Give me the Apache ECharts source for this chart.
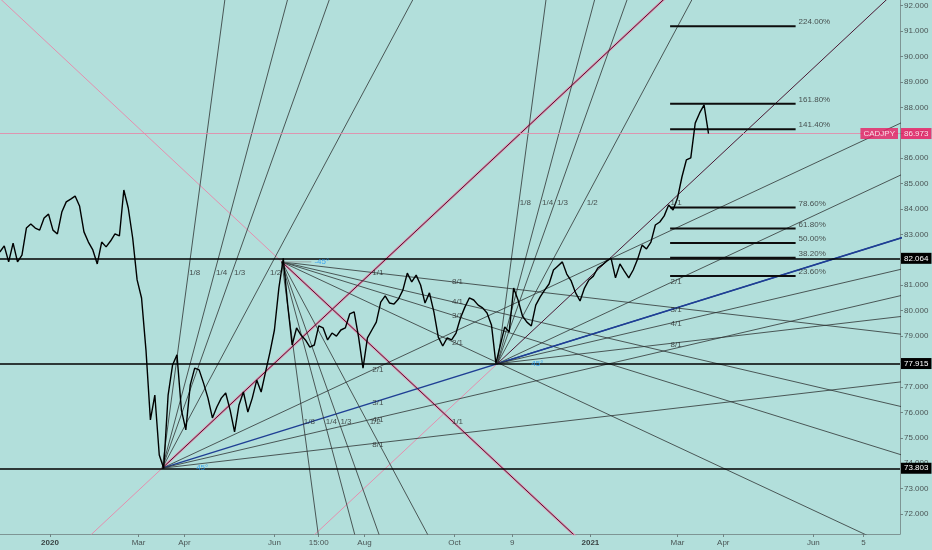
<!DOCTYPE html>
<html><head><meta charset="utf-8">
<script src="https://cdn.jsdelivr.net/npm/echarts@6/dist/echarts.min.js"></script>
<style>html,body{margin:0;padding:0;background:#b2dfdb}#c{width:932px;height:550px}</style>
</head><body><div id="c"></div>
<script>
// ---------- data ----------
const symbolName = 'CADJPY';
const priceStart = '2019-11-28';
const priceStepDays = 3;
const prices = [
  82.31,82.55,81.92,82.66,81.92,82.19,83.25,83.41,83.25,83.17,
  83.65,83.80,83.17,83.02,83.88,84.28,84.39,84.51,84.12,83.10,
  82.70,82.39,81.84,82.70,82.51,82.74,83.02,82.94,84.75,84.04,
  82.86,81.21,80.50,78.45,75.70,76.68,74.32,73.80,76.68,77.86,
  78.26,76.09,75.31,77.08,77.74,77.67,77.15,76.56,75.78,76.21,
  76.56,76.76,76.09,75.23,76.29,76.80,76.01,76.56,77.27,76.80,
  77.59,78.37,79.24,80.89,82.06,80.22,78.65,79.32,79.04,78.85,
  78.57,78.65,79.40,79.32,78.85,79.12,79.00,79.24,79.32,79.87,
  79.95,78.96,77.74,78.93,79.24,79.55,80.34,80.58,80.30,80.26,
  80.46,80.81,81.48,81.13,81.40,81.01,80.30,80.70,79.95,78.96,
  78.61,78.93,78.85,79.12,79.71,80.14,80.50,80.42,80.22,80.11,
  79.91,79.44,77.92,78.65,79.36,79.16,80.89,80.42,79.79,79.55,
  79.40,80.22,80.54,80.81,81.05,81.60,81.76,81.92,81.44,81.17,
  80.70,80.38,80.89,81.21,81.36,81.68,81.80,81.95,82.07,81.29,
  81.84,81.56,81.29,81.60,82.03,82.58,82.43,82.70,83.37,83.49,
  83.73,84.16,83.96,84.43,85.26,85.93,86.01,87.38,87.78,88.10,
  86.97
];
const levelPrices = [82.064, 77.915, 73.803];
const lastPrice = 86.973;

const xTickDates = ['2020-01-01','2020-03-01','2020-04-01','2020-06-01','2020-07-01','2020-08-01','2020-10-01','2020-11-09','2021-01-01','2021-03-01','2021-04-01','2021-06-01','2021-07-05'];
const xTickLabels = ['2020','Mar','Apr','Jun','15:00','Aug','Oct','9','2021','Mar','Apr','Jun','5'];
const yTicks = [72,73,74,75,76,77,78,79,80,81,82,83,84,85,86,87,88,89,90,91,92];

// Gann fans: origin point and 1/1 box corner
const fanOrigins = [['2020-03-17', 73.803], ['2020-06-06', 81.92], ['2020-10-30', 77.915]];
const fanCorners = [['2020-08-10', 81.73], ['2020-10-03', 75.46], ['2021-02-28', 84.49]];
const fanAngles = ['45°', '-45°', '45°'];
const fanSteep = [8, 4, 3, 2];
const fanShallow = [2, 3, 4, 8];

// Fibonacci levels
const fibLevels = [2.24, 1.618, 1.414, 0.786, 0.618, 0.5, 0.382, 0.236];
const fibZero = 80.206, fibOne = 85.112;
const fibStart = '2021-02-24', fibEnd = '2021-05-20';

// ---------- build ----------
const DAY0 = Date.UTC(2020, 0, 1);
const day = s => (Date.parse(s + 'T00:00:00Z') - DAY0) / 86400000;
const xMin = -33.87, xMax = 575.7;
const yMax = 92.2243, yMin = 71.213;
const FONT = 'Liberation Sans';
const CLEAR = 'rgba(0,0,0,0)';

const priceData = prices.map((p, i) => [day(priceStart) + i * priceStepDays, p]);
const xTickDays = xTickDates.map(day);

const series = [];
function seg(p1, p2, color, width, z) {
  series.push({type: 'line', data: [p1, p2], symbol: 'none', silent: true, animation: false,
    z: z || 2, lineStyle: {color: color, width: width}, clip: true});
}
const labels = [];
function txt(pt, text, opts) {
  labels.push({value: pt, label: Object.assign({show: true, formatter: text, position: 'inside',
    align: 'center', verticalAlign: 'middle', fontSize: 8, color: '#2b2b2b', fontFamily: FONT}, opts || {})});
}

const K = 40;
const PINK = '#e48fae', MAROON = '#4a1833', DARK = '#2e3333', NAVY = '#1f3f94';
fanOrigins.forEach((o, f) => {
  const A = [day(o[0]), o[1]];
  const B = [day(fanCorners[f][0]), fanCorners[f][1]];
  const dx = B[0] - A[0], dy = B[1] - A[1];
  const up = dy > 0;
  seg(A, [A[0] - K * dx, A[1] - K * dy], PINK, 1, 1);
  if (f < 2) seg(A, [A[0] + K * dx, A[1] + K * dy], PINK, 2.4, 1);
  seg(A, [A[0] + K * dx, A[1] + K * dy], MAROON, 1, 3);
  txt(B, '1/1', {offset: [0, up ? 6 : -4]});
  fanSteep.forEach(n => {
    seg(A, [A[0] + K * dx / n, A[1] + K * dy], DARK, 0.8, 2);
    txt([A[0] + dx / n, B[1]], '1/' + n, {align: 'left', offset: [0, up ? 6 : -4]});
  });
  fanShallow.forEach(n => {
    const blue = (n === 3 && f !== 1);
    seg(A, [A[0] + K * dx, A[1] + K * dy / n], blue ? NAVY : DARK, blue ? 1.3 : 0.8, 2);
    txt([B[0], A[1] + dy / n], n + '/1', {offset: [0, up ? 2 : -1]});
  });
  txt(A, fanAngles[f], {color: '#2196f3', offset: [40, 0]});
  if (f === 1) seg(A, [A[0] + 20, A[1]], '#9aa5a5', 1, 2);
});

const fibPrice = l => fibZero + l * (fibOne - fibZero);
fibLevels.forEach(l => {
  const p = fibPrice(l);
  seg([day(fibStart), p], [day(fibEnd), p], '#0d0d0d', 2, 4);
  txt([day(fibEnd), p], (l * 100).toFixed(2) + '%', {align: 'left', offset: [3, -4]});
});

series.push({
  type: 'line', data: priceData, symbol: 'none', silent: true, animation: false, z: 6,
  lineStyle: {color: '#000', width: 1.4},
  markLine: {
    symbol: 'none', silent: true, animation: false,
    data: levelPrices.map(v => ({yAxis: v, lineStyle: {color: '#000', width: 1.7, type: 'solid'},
      label: {show: true, position: 'end', distance: 1, formatter: v.toFixed(3), backgroundColor: '#000',
        color: '#fff', padding: [2, 3, 1, 3], fontSize: 8, fontFamily: FONT}}))
      .concat([{yAxis: lastPrice, lineStyle: {color: '#e48aa8', width: 1, type: 'solid', opacity: 0.85},
        label: {show: true, position: 'end', distance: 1, formatter: lastPrice.toFixed(3), backgroundColor: '#e91e63',
          color: '#fff', padding: [2, 3, 1, 3], fontSize: 8, fontFamily: FONT}}])
  }
});

series.push({type: 'scatter', data: labels, symbolSize: 2, itemStyle: {color: CLEAR}, silent: true, animation: false, z: 8, clip: false});
series.push({type: 'scatter', data: [{value: [xMax, lastPrice], label: {show: true, position: 'left', distance: 1,
  formatter: symbolName, backgroundColor: '#e91e63', color: '#fff', padding: [2, 3, 1, 3], fontSize: 8, fontFamily: FONT}}],
  symbolSize: 2, itemStyle: {color: CLEAR}, silent: true, animation: false, z: 9, clip: false});

const chart = echarts.init(document.getElementById('c'), null, {renderer: 'canvas'});
chart.setOption({
  backgroundColor: '#b2dfdb',
  animation: false,
  grid: {left: 0, right: 32, top: 0, bottom: 16},
  xAxis: {
    type: 'value', min: xMin, max: xMax,
    axisLine: {show: true, onZero: false, lineStyle: {color: '#7e9594', width: 1}},
    axisTick: {show: true, customValues: xTickDays, length: 3, lineStyle: {color: '#6f8584'}},
    axisLabel: {customValues: xTickDays, fontSize: 8, color: '#4a5555', margin: 5, fontFamily: FONT,
      formatter: v => {
        const i = xTickDays.findIndex(d => Math.abs(d - v) < 0.01);
        const t = i >= 0 ? xTickLabels[i] : '';
        return /^\d{4}$/.test(t) ? '{b|' + t + '}' : t;
      },
      rich: {b: {fontWeight: 'bold', fontSize: 8, color: '#3a4444', fontFamily: FONT}}},
    splitLine: {show: false}
  },
  yAxis: {
    type: 'value', position: 'right', min: yMin, max: yMax,
    axisLine: {show: true, onZero: false, lineStyle: {color: '#7e9594', width: 1}},
    axisTick: {show: true, customValues: yTicks, length: 3, lineStyle: {color: '#6f8584'}},
    axisLabel: {customValues: yTicks, formatter: v => v.toFixed(3), fontSize: 8, color: '#4a5555', margin: 4, fontFamily: FONT},
    splitLine: {show: false}
  },
  series: series
});
</script></body></html>
